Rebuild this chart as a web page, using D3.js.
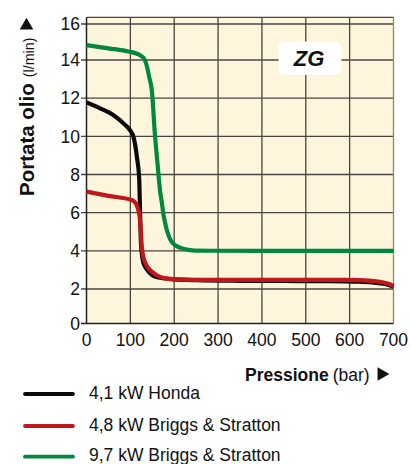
<!DOCTYPE html>
<html><head><meta charset="utf-8">
<script src="https://cdn.jsdelivr.net/npm/d3@7"></script>
<style>
html,body{margin:0;padding:0;background:#fff;}
svg{display:block;}
text{font-family:"Liberation Sans",Arial,sans-serif;fill:#111;}
.cond{font-family:"Liberation Sans Narrow","Liberation Sans",Arial,sans-serif;font-weight:bold;}
</style></head><body>
<svg id="chart" width="410" height="464"></svg>
<script>
// ---- data ----
const xTicks = [0, 100, 200, 300, 400, 500, 600, 700];
const yTicks = [0, 2, 4, 6, 8, 10, 12, 14, 16];
const seriesNames = ["4,1 kW Honda", "4,8 kW Briggs & Stratton", "9,7 kW Briggs & Stratton"];
const seriesColors = ["#0a0a0a", "#c0171d", "#00883f"];

const hondaP = [0, 30, 61, 88, 99, 107, 111, 115, 120, 122, 124, 127, 130, 134, 142, 156, 180, 202, 250, 350, 450, 550, 620, 660, 685, 700];
const hondaV = [11.78, 11.48, 11.12, 10.6, 10.33, 9.98, 9.55, 8.9, 7.85, 6.2, 4.5, 3.7, 3.35, 3.15, 2.9, 2.65, 2.55, 2.5, 2.46, 2.43, 2.42, 2.41, 2.38, 2.32, 2.24, 2.12];

const briggs48P = [0, 50, 103, 110, 114, 118, 122, 124, 126, 129, 133, 140, 149, 160, 179, 210, 247, 350, 450, 550, 620, 650, 675, 690, 700];
const briggs48V = [7.10, 6.88, 6.66, 6.55, 6.42, 6.15, 5.62, 5.0, 4.22, 3.75, 3.43, 3.12, 2.91, 2.72, 2.56, 2.5, 2.48, 2.48, 2.48, 2.48, 2.47, 2.43, 2.35, 2.26, 2.17];

const briggs97P = [0, 50, 98, 115, 125, 133, 138, 143, 149, 156, 162, 168, 172, 175, 179, 183, 189, 194, 205, 217, 232, 247, 400, 550, 700];
const briggs97V = [14.83, 14.65, 14.46, 14.35, 14.22, 14.0, 13.65, 13.1, 12.4, 10.1, 8.55, 7.1, 6.5, 5.97, 5.5, 5.09, 4.7, 4.48, 4.25, 4.13, 4.05, 4.01, 4.0, 4.0, 4.0];

// ---- layout ----
const svg = d3.select("#chart");
const x = d3.scaleLinear().domain([0, 700]).range([86.5, 393.5]);
const y = d3.scaleLinear().domain([0, 2, 14, 16]).range([323.5, 289, 60, 24]);
const plotTop = 17.3;

// background
svg.append("rect").attr("x", x(0)).attr("y", plotTop)
  .attr("width", x(700) - x(0)).attr("height", y(0) - plotTop)
  .attr("fill", "#fdf5dc");

// grid
const gridCol = "#4a4540";
svg.append("g").selectAll("line").data(yTicks.filter(d => d > 0)).join("line")
  .attr("x1", x(0) - 5.5).attr("x2", x(700))
  .attr("y1", d => y(d)).attr("y2", d => y(d))
  .attr("stroke", gridCol).attr("stroke-width", 1.3);
svg.append("g").selectAll("line").data(xTicks.filter(d => d > 0)).join("line")
  .attr("x1", d => x(d)).attr("x2", d => x(d))
  .attr("y1", plotTop).attr("y2", y(0))
  .attr("stroke", d => d === 700 ? "#8a8580" : gridCol).attr("stroke-width", 1.3);
// top border
svg.append("line").attr("x1", x(0)).attr("x2", x(700)).attr("y1", plotTop).attr("y2", plotTop)
  .attr("stroke", gridCol).attr("stroke-width", 1.3);
// axes
svg.append("line").attr("x1", x(0)).attr("x2", x(0)).attr("y1", plotTop).attr("y2", y(0))
  .attr("stroke", "#222").attr("stroke-width", 1.5);
svg.append("line").attr("x1", x(0) - 5.5).attr("x2", x(700)).attr("y1", y(0)).attr("y2", y(0))
  .attr("stroke", "#222").attr("stroke-width", 1.5);

// tick labels
svg.append("g").selectAll("text").data(yTicks).join("text")
  .attr("x", 80).attr("y", d => y(d) + 6.3)
  .attr("text-anchor", "end").attr("font-size", 17.5).text(d => d);
svg.append("g").selectAll("text").data(xTicks).join("text")
  .attr("x", d => x(d)).attr("y", 345.5)
  .attr("text-anchor", "middle").attr("font-size", 17.5).text(d => d);

// ZG label
svg.append("rect").attr("x", 278.5).attr("y", 41.5).attr("width", 63).attr("height", 33.5)
  .attr("rx", 6).attr("fill", "#fff");
svg.append("text").attr("x", 309).attr("y", 66.2).attr("text-anchor", "middle")
  .attr("font-size", 22).attr("font-weight", "bold").attr("font-style", "italic").text("ZG");

// curves
const lineGen = d3.line().x(d => x(d[0])).y(d => y(d[1])).curve(d3.curveMonotoneX);
const series = [
  {p: briggs97P, v: briggs97V, c: seriesColors[2]},
  {p: hondaP, v: hondaV, c: seriesColors[0]},
  {p: briggs48P, v: briggs48V, c: seriesColors[1]}
];
series.forEach(s => {
  svg.append("path").datum(s.p.map((p, i) => [p, s.v[i]]))
    .attr("d", lineGen).attr("fill", "none").attr("stroke", s.c)
    .attr("stroke-width", 4.2).attr("stroke-linejoin", "round");
});

// y title
const yt = svg.append("text").attr("transform", "translate(33.5,196) rotate(-90)").attr("font-size", 20.5);
yt.append("tspan").attr("class", "cond").text("Portata olio");
yt.append("tspan").attr("dx", 6).attr("font-size", 14.3).text("(l/min)");
svg.append("path").attr("d", d3.symbol(d3.symbolTriangle, 80)()).attr("transform", "translate(26.5,25.5)").attr("fill", "#111");

// x title
const xt = svg.append("text").attr("x", 245).attr("y", 380.5).attr("font-size", 17.5);
xt.append("tspan").attr("class", "cond").text("Pressione");
xt.append("tspan").attr("dx", 4).text("(bar)");
svg.append("path").attr("d", d3.symbol(d3.symbolTriangle, 80)()).attr("transform", "translate(381.5,374) rotate(90)").attr("fill", "#111");

// legend
const legY = [394, 426, 456.7];
seriesNames.forEach((n, i) => {
  svg.append("line").attr("x1", 25).attr("x2", 73).attr("y1", legY[i]).attr("y2", legY[i])
    .attr("stroke", seriesColors[i]).attr("stroke-width", 3.8).attr("stroke-linecap", "round");
  svg.append("text").attr("x", 89).attr("y", legY[i] + 4.5).attr("font-size", 17.5).text(n);
});
</script>
</body></html>
